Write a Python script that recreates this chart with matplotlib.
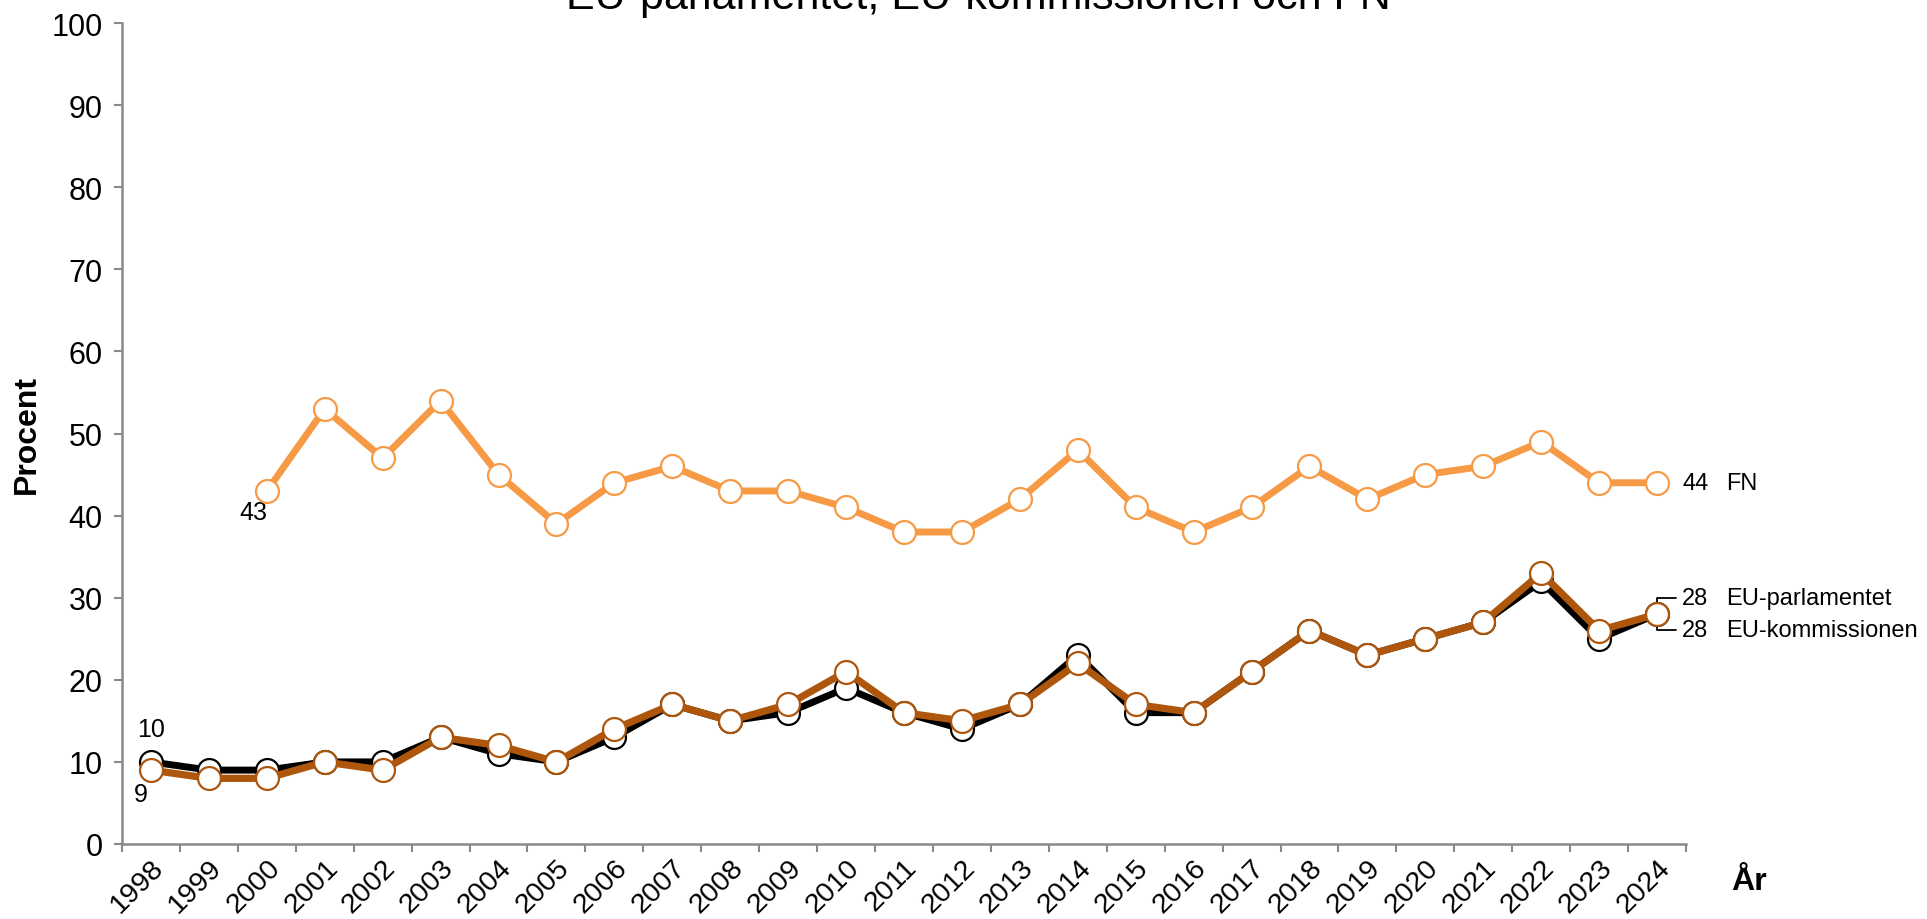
import matplotlib
matplotlib.use("Agg")
import matplotlib.pyplot as plt
import numpy as np

plt.rcParams['font.family'] = ['Liberation Sans', 'DejaVu Sans']

years = list(range(1998, 2025))
kommissionen = [10, 9, 9, 10, 10, 13, 11, 10, 13, 17, 15, 16, 19, 16, 14, 17, 23, 16, 16, 21, 26, 23, 25, 27, 32, 25, 28]
parlamentet = [9, 8, 8, 10, 9, 13, 12, 10, 14, 17, 15, 17, 21, 16, 15, 17, 22, 17, 16, 21, 26, 23, 25, 27, 33, 26, 28]
fn_years = list(range(2000, 2025))
fn = [43, 53, 47, 54, 45, 39, 44, 46, 43, 43, 41, 38, 38, 42, 48, 41, 38, 41, 46, 42, 45, 46, 49, 44, 44]

title = "EU-parlamentet, EU-kommissionen och FN"
c_fn = '#F79A45'
c_par = '#AD560C'
c_kom = '#000000'
gray = '#898989'

fig = plt.figure(figsize=(19.27, 9.2), dpi=100)
ax = fig.add_axes([122/1927, 75/920, (1686-122)/1927, (845-24)/920])

x_all = np.arange(len(years))
x_fn = np.array([years.index(y) for y in fn_years])

ms = 16.5
mew = 1.6
ax.plot(x_all, kommissionen, color=c_kom, lw=5, marker='o', ms=ms, mfc='white', mec=c_kom, mew=mew, zorder=3, clip_on=False)
ax.plot(x_all, parlamentet, color=c_par, lw=5.2, marker='o', ms=ms, mfc='white', mec=c_par, mew=mew, zorder=4, clip_on=False)
ax.plot(x_fn, fn, color=c_fn, lw=5, marker='o', ms=ms, mfc='white', mec=c_fn, mew=mew, zorder=5, clip_on=False)

ax.set_xlim(-0.5, len(years) - 0.5)
ax.set_ylim(0, 100)
ax.set_yticks(range(0, 101, 10))
ax.set_xticks(x_all)
ax.set_xticklabels([str(y) for y in years], rotation=45, ha='right', va='top', rotation_mode='anchor', fontsize=20.5)
ax.set_xticks(np.arange(-0.5, len(years), 1.0), minor=True)
ax.tick_params(axis='x', which='major', length=0, pad=7)
ax.tick_params(axis='x', which='minor', length=6, width=1.5, color=gray, direction='out')
ax.tick_params(axis='y', length=6, width=1.5, color=gray, direction='out', labelsize=22, pad=8)
for s in ['top', 'right']:
    ax.spines[s].set_visible(False)
for s in ['left', 'bottom']:
    ax.spines[s].set_color(gray)
    ax.spines[s].set_linewidth(1.8)

ax.set_ylabel('Procent', fontsize=23, fontweight='bold')
ax.yaxis.set_label_coords(-0.0515, 0.5)
ax.text(1.04, -0.045, 'År', transform=ax.transAxes, fontsize=23, fontweight='bold', ha='center', va='center')

fs = 18
fs_r = 17
# point labels
ax.annotate(str(kommissionen[0]), (0, kommissionen[0]), xytext=(0, 24), textcoords='offset points', ha='center', va='center', fontsize=fs)
ax.annotate(str(parlamentet[0]), (0, parlamentet[0]), xytext=(-7, -17), textcoords='offset points', ha='center', va='center', fontsize=fs)
ax.annotate(str(fn[0]), (x_fn[0], fn[0]), xytext=(-10, -15), textcoords='offset points', ha='center', va='center', fontsize=fs)
ax.annotate(str(fn[-1]), (x_fn[-1], fn[-1]), xytext=(18, 0), textcoords='offset points', ha='left', va='center', fontsize=fs_r)
ax.annotate('FN', (x_fn[-1], fn[-1]), xytext=(50, 0), textcoords='offset points', ha='left', va='center', fontsize=fs_r)

xe = x_all[-1]
dy = 11.5
ax.annotate(str(parlamentet[-1]), (xe, parlamentet[-1]), xytext=(18, dy), textcoords='offset points', ha='left', va='center', fontsize=fs_r)
ax.annotate('EU-parlamentet', (xe, parlamentet[-1]), xytext=(50, dy), textcoords='offset points', ha='left', va='center', fontsize=fs_r)
ax.annotate(str(kommissionen[-1]), (xe, kommissionen[-1]), xytext=(18, -dy), textcoords='offset points', ha='left', va='center', fontsize=fs_r)
ax.annotate('EU-kommissionen', (xe, kommissionen[-1]), xytext=(50, -dy), textcoords='offset points', ha='left', va='center', fontsize=fs_r)

# bracket connectors
for sgn in (1, -1):
    ax.annotate('', xy=(xe, parlamentet[-1]), xytext=(14, sgn * dy), textcoords='offset points',
                arrowprops=dict(arrowstyle='-', color='black', lw=1.3, shrinkA=0, shrinkB=0,
                                connectionstyle='angle,angleA=0,angleB=90,rad=0'))

fig.text(978/1927, 1 - 9/920, title, ha='center', va='baseline', fontsize=31)

fig.savefig('out.png', dpi=100)
